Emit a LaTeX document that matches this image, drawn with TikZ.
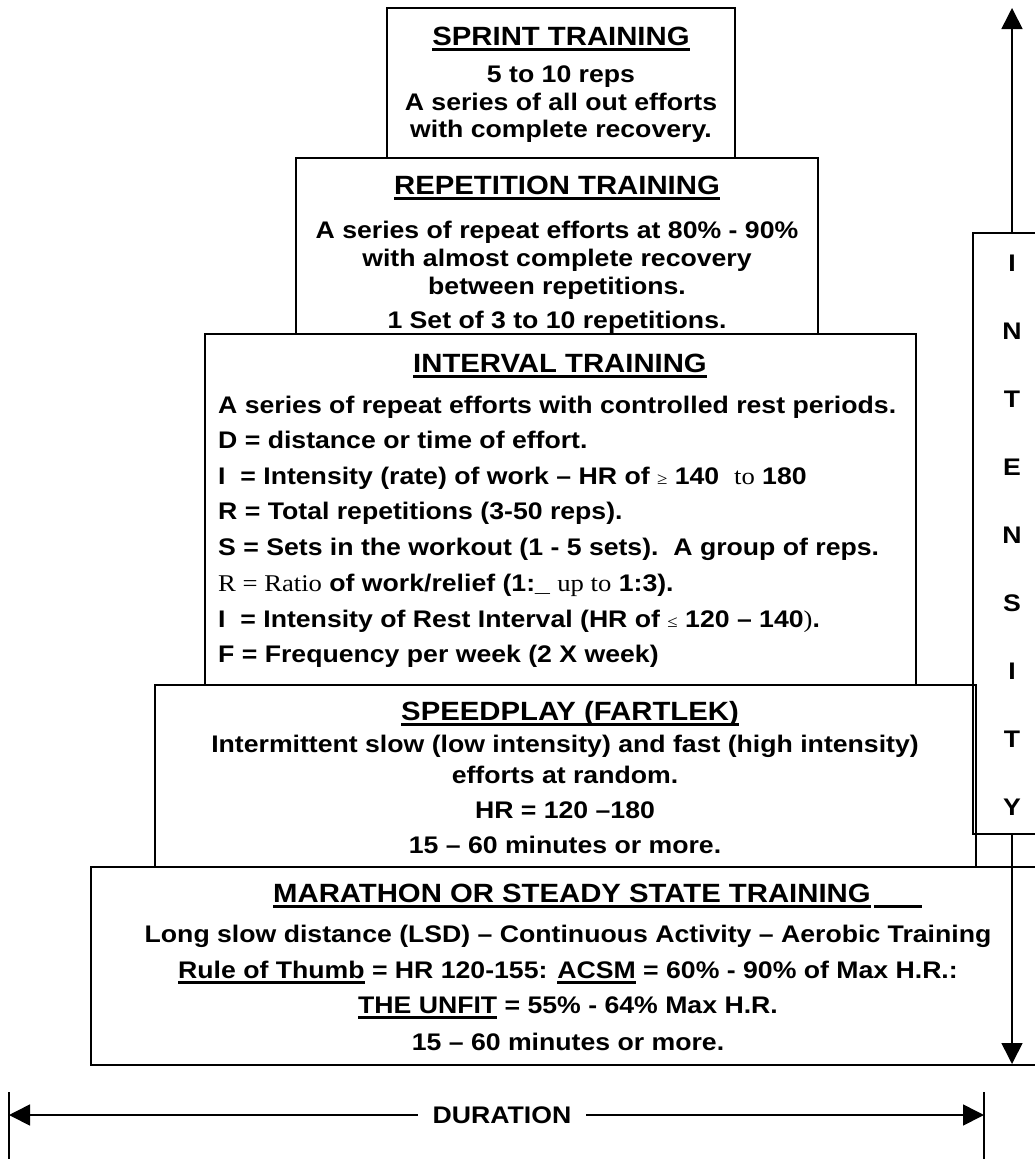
\documentclass[tikz,border=0pt]{standalone}
\usepackage{fontspec}
\setmainfont{Liberation Sans}[FakeStretch=1.11]
\newfontfamily\serifpart{Liberation Serif}[FakeStretch=1.11]
\usetikzlibrary{arrows.meta}

\newcommand{\bodyfont}{\fontsize{24}{28}\selectfont\bfseries}
\newcommand{\headfont}{\fontsize{26.4}{30}\selectfont\bfseries}
\newcommand{\tms}[1]{{\serifpart\mdseries #1}}
\newcommand{\smsym}[1]{{\serifpart\mdseries\fontsize{17}{20}\selectfont #1}}
\newsavebox{\ulbox}
\newcommand{\uln}[1]{\sbox{\ulbox}{#1}\rlap{\rule[-5.5pt]{\wd\ulbox}{2.2pt}}\usebox{\ulbox}}

\begin{document}
\begin{tikzpicture}[
    x=1pt, y=-1pt,
    box/.style={draw, line width=2.2pt, inner sep=0pt},
    heading/.style={font=\headfont, anchor=base, inner sep=0pt},
    txt/.style={font=\bodyfont, anchor=base, inner sep=0pt},
    lefttxt/.style={txt, anchor=base west},
    letter/.style={font=\bodyfont, inner sep=0pt},
    arr/.style={line width=1.6pt, -{Triangle[length=21pt, width=21pt]}},
    dur/.style={line width=1.6pt, {Triangle[length=21pt, width=21pt]}-{Triangle[length=21pt, width=21pt]}},
]
\useasboundingbox (0,0) rectangle (1035,1159);
\clip (0,0) rectangle (1035,1159);

% ── Boxes ──
\node[box, minimum width=348pt, minimum height=150pt] (sprint) at (561,83) {};
\node[box, minimum width=522pt, minimum height=176pt] (rep) at (557,246) {};
\node[box, minimum width=711pt, minimum height=351pt] (interval) at (560.5,509.5) {};
\node[box, minimum width=821pt, minimum height=182pt] (speed) at (565.5,776) {};
\node[box, minimum width=954pt, minimum height=198pt] (marathon) at (568,966) {};

% ── Sprint training ──
\node[heading] (sprintT) at (561,45) {\uln{SPRINT TRAINING}};
\node[txt] (sprint1) at (561,82) {5 to 10 reps};
\node[txt] (sprint2) at (561,110) {A series of all out efforts};
\node[txt] (sprint3) at (561,137) {with complete recovery.};

% ── Repetition training ──
\node[heading] (repT) at (557,194) {\uln{REPETITION TRAINING}};
\node[txt] (rep1) at (557,238) {A series of repeat efforts at 80\% - 90\%};
\node[txt] (rep2) at (557,266) {with almost complete recovery};
\node[txt] (rep3) at (557,294) {between repetitions.};
\node[txt] (rep4) at (557,328) {1 Set of 3 to 10 repetitions.};

% ── Interval training ──
\node[heading] (intT) at (560,372) {\uln{INTERVAL TRAINING}};
\node[lefttxt] (int1) at (218,413) {A series of repeat efforts with controlled rest periods.};
\node[lefttxt] (int2) at (218,448) {D = distance or time of effort.};
\node[lefttxt] (int3) at (218,484) {I\ \ = Intensity (rate) of work – HR of \smsym{≥} 140\ \ \tms{to} 180};
\node[lefttxt] (int4) at (218,519) {R = Total repetitions (3-50 reps).};
\node[lefttxt] (int5) at (218,555) {S = Sets in the workout (1 - 5 sets).\ \ A group of reps.};
\node[lefttxt] (int6) at (218,591) {\tms{R = Ratio} of work/relief (1:\_ \tms{up to} 1:3).};
\node[lefttxt] (int7) at (218,627) {I\ \ = Intensity of Rest Interval (HR of \smsym{≤} 120 – 140\tms{)}.};
\node[lefttxt] (int8) at (218,662) {F = Frequency per week (2 X week)};

% ── Speedplay ──
\node[heading] (speedT) at (570,720) {\uln{SPEEDPLAY (FARTLEK)}};
\node[txt] (speed1) at (565,752) {Intermittent slow (low intensity) and fast (high intensity)};
\node[txt] (speed2) at (565,783) {efforts at random.};
\node[txt] (speed3) at (565,818) {HR = 120 –180};
\node[txt] (speed4) at (565,853) {15 – 60 minutes or more.};

% ── Marathon ──
\node[heading, anchor=base west] (marT) at (273,902)
    {\uln{MARATHON OR STEADY STATE TRAINING}\hspace{3pt}\rule[-5.5pt]{48pt}{2.2pt}};
\node[txt] (mar1) at (568,942) {Long slow distance (LSD) – Continuous Activity – Aerobic Training};
\node[txt] (mar2) at (568,978) {\uln{Rule of Thumb} = HR 120-155: \uln{ACSM} = 60\% - 90\% of Max H.R.:};
\node[txt] (mar3) at (568,1013) {\uln{THE UNFIT} = 55\% - 64\% Max H.R.};
\node[txt] (mar4) at (568,1050) {15 – 60 minutes or more.};

% ── Intensity ──
\node[draw, line width=1.5pt, minimum width=78pt, minimum height=601pt] (intensity) at (1012,533.5) {};
\foreach \ch [count=\i] in {I,N,T,E,N,S,I,T,Y}
    \node[letter] (let\i) at (1012,{263+68*(\i-1)}) {\ch};
\coordinate (topend) at (1012,8);
\coordinate (botend) at (1012,1064);
\draw[arr] (intensity.north) -- (topend);
\draw[arr] (intensity.south) -- (botend);

% ── Duration ──
\coordinate (durL) at (9,1115);
\coordinate (durR) at (984,1115);
\draw[line width=1.3pt] (9,1092) -- (9,1159);
\draw[line width=1.3pt] (984,1092) -- (984,1159);
\draw[dur] (durL) -- (durR);
\node[font=\bodyfont, fill=white, inner xsep=15pt, inner ysep=4pt] (duration) at (502,1115) {DURATION};

\end{tikzpicture}
\end{document}
